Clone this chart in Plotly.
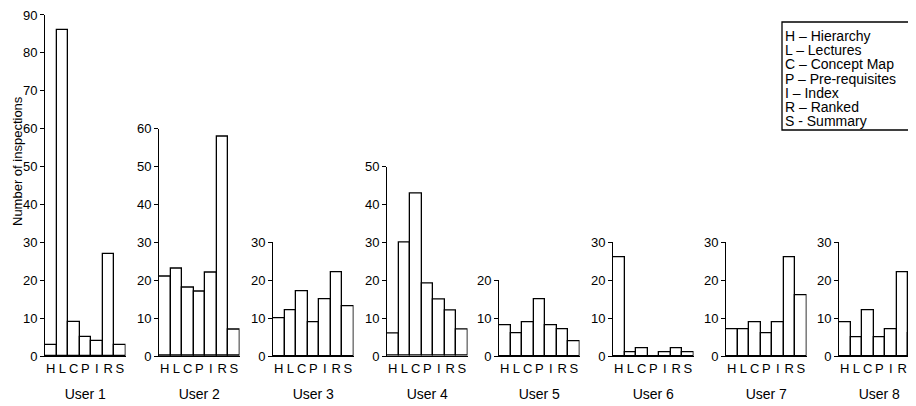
import plotly.graph_objects as go

categories = ["H", "L", "C", "P", "I", "R", "S"]
users = ["User 1", "User 2", "User 3", "User 4", "User 5", "User 6", "User 7", "User 8"]
user1 = [3, 86, 9, 5, 4, 27, 3]
user2 = [21, 23, 18, 17, 22, 58, 7]
user3 = [10, 12, 17, 9, 15, 22, 13]
user4 = [6, 30, 43, 19, 15, 12, 7]
user5 = [8, 6, 9, 15, 8, 7, 4]
user6 = [26, 1, 2, 0, 1, 2, 1]
user7 = [7, 7, 9, 6, 9, 26, 16]
user8 = [9, 5, 12, 5, 7, 22, 6]
axis_max = [90, 60, 30, 50, 20, 30, 30, 30]
legend_lines = ["H – Hierarchy", "L – Lectures", "C – Concept Map", "P – Pre-requisites",
                "I – Index", "R – Ranked", "S - Summary"]
y_title = "Number of inspections"

series = [user1, user2, user3, user4, user5, user6, user7, user8]

W, H = 916, 406
OFF = 8                # page body margin offset
FONT = "Liberation Sans, Arial, Helvetica, sans-serif"
px_per_unit = 3.789
x_starts = [45, 159, 273, 387, 499, 613, 726, 839]
panel_w = 80.5


def fx(px):
    return (px - OFF) / W


def fy(py):
    return (H - (py - OFF)) / H


fig = go.Figure()
layout = {}
for i, (vals, name, ymax, x0) in enumerate(zip(series, users, axis_max, x_starts)):
    k = "" if i == 0 else str(i + 1)
    fig.add_trace(go.Bar(
        x=categories, y=vals, xaxis="x" + k, yaxis="y" + k,
        marker=dict(color="white", line=dict(color="black", width=1.3)),
        showlegend=False, hoverinfo="x+y",
    ))
    y0 = fy(356)
    y1 = fy(356 - ymax * px_per_unit)
    layout["xaxis" + k] = dict(
        domain=[fx(x0), fx(x0 + panel_w)], anchor="y" + k, type="category",
        range=[-0.5, 6.5], showline=True, linecolor="black", linewidth=1.3,
        tickmode="array", tickvals=categories, ticktext=categories,
        ticks="", showgrid=False, zeroline=False, automargin=False,
        ticklabeloverflow="allow",
        tickfont=dict(family=FONT, size=13, color="black"),
        title=dict(text=name, font=dict(family=FONT, size=14, color="black"), standoff=14),
    )
    layout["yaxis" + k] = dict(
        domain=[y0, y1], anchor="x" + k, range=[0, ymax], dtick=10,
        showline=True, linecolor="black", linewidth=1, ticks="outside",
        ticklen=4, tickcolor="black", showgrid=False, zeroline=False, automargin=False,
        ticklabeloverflow="allow",
        tickfont=dict(family=FONT, size=13, color="black"),
    )

shapes = [dict(type="rect", xref="paper", yref="paper",
               x0=fx(782), x1=1.05, y0=fy(130), y1=fy(22),
               line=dict(color="black", width=1.3), fillcolor="white", layer="above")]
annotations = [dict(text=y_title, x=fx(17), y=fy(161), xref="paper", yref="paper",
                    xanchor="center", yanchor="middle",
                    textangle=-90, showarrow=False,
                    font=dict(family=FONT, size=13, color="black"))]
for j, line in enumerate(legend_lines):
    annotations.append(dict(text=line, x=fx(783), y=fy(36 + j * 14.2),
                            xref="paper", yref="paper", xanchor="left", yanchor="middle",
                            showarrow=False, font=dict(family=FONT, size=14, color="black")))

fig.update_layout(
    width=W, height=H, margin=dict(l=0, r=0, t=0, b=0, autoexpand=False),
    plot_bgcolor="white", paper_bgcolor="white", bargap=0,
    shapes=shapes, annotations=annotations, **layout,
)
fig.write_html("out.html")
